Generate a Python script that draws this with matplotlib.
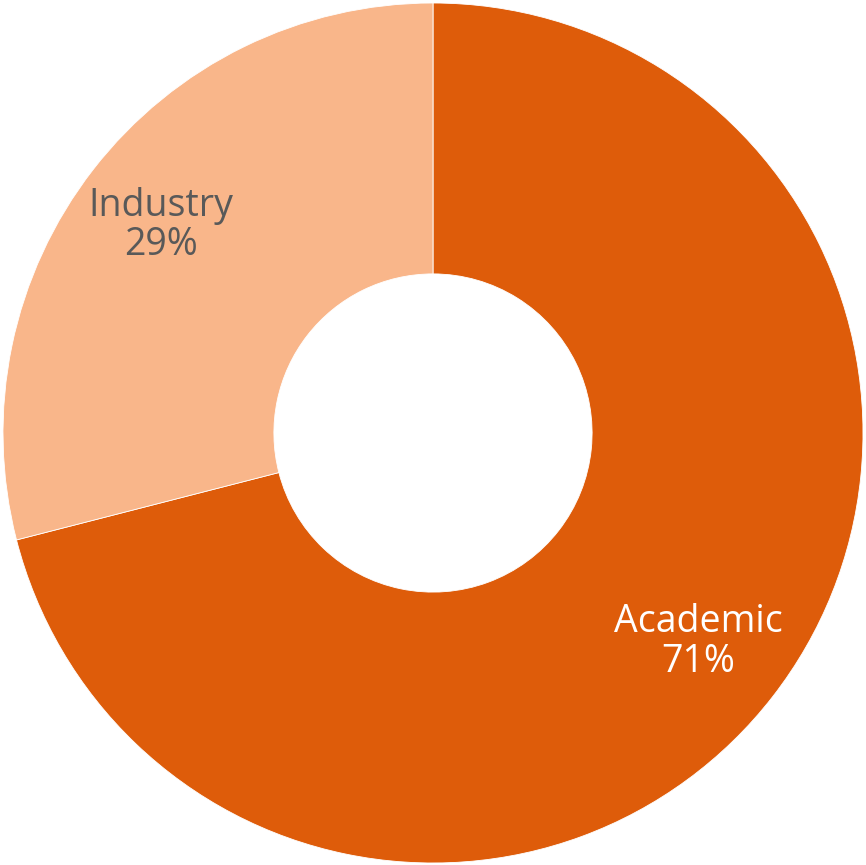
import matplotlib.pyplot as plt
import numpy as np

plt.rcParams['font.family'] = ['Open Sans', 'DejaVu Sans']

# 数据
labels = ['Academic', 'Industry']
shares = [71, 29]
colors = ['#DE5C0A', '#F9B68A']
text_colors = ['white', '#595959']
label_radius = [0.78, 0.80]

fig = plt.figure(figsize=(8.66, 8.65), dpi=100)
ax = fig.add_axes([0, 0, 1, 1])

wedges, _ = ax.pie(
    shares,
    colors=colors,
    startangle=90,
    counterclock=False,
    radius=1.0,
    wedgeprops=dict(width=0.63, edgecolor='white', linewidth=0.6),
)

# 标签放在扇区中线方向上，略微下移
for w, name, val, tc, r in zip(wedges, labels, shares, text_colors, label_radius):
    mid = np.deg2rad((w.theta1 + w.theta2) / 2)
    ax.text(r * np.cos(mid), r * np.sin(mid) - 0.008, f'{name}\n{val}%',
            ha='center', va='center', fontsize=27, color=tc, linespacing=1.05)

ax.set_xlim(-433 / 430, 433 / 430)
ax.set_ylim(-432 / 430, 433 / 430)
ax.set_aspect('equal')
ax.axis('off')

plt.savefig('out.png', dpi=100)
plt.close()
